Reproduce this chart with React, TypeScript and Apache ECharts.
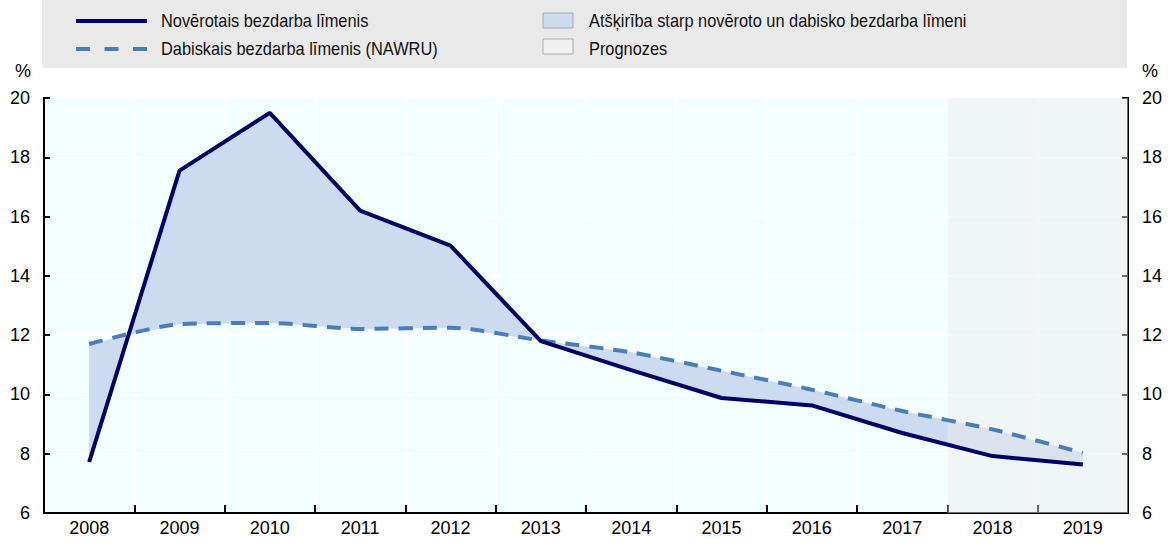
import React, { useEffect, useRef } from 'react';
import * as echarts from 'echarts';

const years = ['2008', '2009', '2010', '2011', '2012', '2013', '2014', '2015', '2016', '2017', '2018', '2019'];
const observed = [7.72, 17.55, 19.5, 16.2, 15.02, 11.8, 10.82, 9.88, 9.63, 8.7, 7.92, 7.64];
const nawru = [11.7, 12.37, 12.41, 12.21, 12.25, 11.82, 11.42, 10.8, 10.16, 9.44, 8.82, 8.03];
const forecastFrom = '2018';
const yMin = 6;
const yMax = 20;
const yStep = 2;

const legendObserved = 'Novērotais bezdarba līmenis';
const legendNawru = 'Dabiskais bezdarba līmenis (NAWRU)';
const legendGap = 'Atšķirība starp novēroto un dabisko bezdarba līmeni';
const legendForecast = 'Prognozes';

const FONT = "'Liberation Sans Narrow', 'Arial Narrow', 'Liberation Sans', Arial, sans-serif";
const NAVY = '#000066';
const BLUE = '#4a7ebb';
const GAP_FILL = '#cddbf0';

export default function App() {
  const ref = useRef<HTMLDivElement>(null);
  useEffect(() => {
    document.body.style.margin = '0';
    if (!ref.current) return;
    const chart = echarts.init(ref.current, null, { renderer: 'svg' });
    const axisLabelStyle = { color: '#000', fontSize: 18, fontFamily: FONT };
    const legendText = (text: string, x: number, y: number) => ({
      type: 'text',
      x,
      y,
      scaleX: 0.91,
      style: { text, fontSize: 18, fontFamily: FONT, fill: '#111', verticalAlign: 'middle' },
    });
    const option: any = {
      animation: false,
      textStyle: { fontFamily: FONT },
      grid: {
        left: 44,
        right: 44,
        top: 98,
        bottom: 31,
        show: true,
        backgroundColor: '#f3ffff',
        borderColor: '#000',
        borderWidth: 2,
      },
      xAxis: {
        type: 'category',
        data: years,
        boundaryGap: true,
        axisLine: { show: true, lineStyle: { color: '#000', width: 2 } },
        axisTick: { show: true, inside: true, length: 8, lineStyle: { color: '#000', width: 2 } },
        axisLabel: { ...axisLabelStyle, margin: 6 },
        splitLine: { show: true, lineStyle: { color: '#ffffff', width: 2 } },
      },
      yAxis: [
        {
          type: 'value',
          min: yMin,
          max: yMax,
          interval: yStep,
          position: 'left',
          name: '%',
          nameLocation: 'end',
          nameGap: 18,
          nameTextStyle: { ...axisLabelStyle, align: 'right', padding: [0, 13, 0, 0] },
          axisLine: { show: true, lineStyle: { color: '#000', width: 2 } },
          axisTick: { show: true, inside: true, length: 6, lineStyle: { color: '#000', width: 2 } },
          axisLabel: { ...axisLabelStyle, margin: 14 },
          splitLine: { show: true, lineStyle: { color: '#ffffff', width: 2 } },
        },
        {
          type: 'value',
          min: yMin,
          max: yMax,
          interval: yStep,
          position: 'right',
          name: '%',
          nameLocation: 'end',
          nameGap: 18,
          nameTextStyle: { ...axisLabelStyle, align: 'left', padding: [0, 0, 0, 14] },
          axisLine: { show: true, lineStyle: { color: '#000', width: 2 } },
          axisTick: { show: true, inside: true, length: 6, lineStyle: { color: '#000', width: 2 } },
          axisLabel: { ...axisLabelStyle, margin: 14 },
          splitLine: { show: false },
        },
      ],
      series: [
        {
          type: 'custom',
          name: legendGap,
          z: 2,
          silent: true,
          data: [[0]],
          renderItem: (params: any, api: any) => {
            const pts: number[][] = [];
            observed.forEach((v, i) => pts.push(api.coord([i, v])));
            for (let i = nawru.length - 1; i >= 0; i--) pts.push(api.coord([i, nawru[i]]));
            return { type: 'polygon', shape: { points: pts }, style: { fill: GAP_FILL } };
          },
        },
        {
          type: 'custom',
          name: legendForecast,
          z: 3,
          silent: true,
          data: [[years.indexOf(forecastFrom)]],
          renderItem: (params: any, api: any) => {
            const cs = params.coordSys;
            const band = api.size([1, 0])[0];
            const x0 = api.coord([api.value(0), yMin])[0] - band / 2;
            return {
              type: 'rect',
              shape: { x: x0, y: cs.y, width: cs.x + cs.width - x0, height: cs.height },
              style: { fill: 'rgba(237,235,236,0.45)' },
            };
          },
        },
        {
          type: 'line',
          name: legendNawru,
          data: nawru,
          z: 4,
          symbol: 'none',
          smooth: 0.25,
          lineStyle: { color: BLUE, width: 4, type: [14, 10] },
        },
        {
          type: 'line',
          name: legendObserved,
          data: observed,
          z: 5,
          symbol: 'none',
          lineStyle: { color: NAVY, width: 4 },
        },
      ],
      graphic: [
        { type: 'rect', shape: { x: 42, y: 0, width: 1085, height: 68 }, style: { fill: '#e9e9e9' }, z: 0 },
        { type: 'line', shape: { x1: 76, y1: 21, x2: 147, y2: 21 }, style: { stroke: NAVY, lineWidth: 4 } },
        { type: 'line', shape: { x1: 76, y1: 49, x2: 147, y2: 49 }, style: { stroke: BLUE, lineWidth: 4, lineDash: [14, 14.5] } },
        legendText(legendObserved, 161, 21),
        legendText(legendNawru, 161, 49),
        { type: 'rect', shape: { x: 543, y: 13, width: 30, height: 15 }, style: { fill: GAP_FILL, stroke: '#aaaaaa', lineWidth: 1 } },
        { type: 'rect', shape: { x: 543, y: 39, width: 30, height: 15 }, style: { fill: '#f0f0f0', stroke: '#aaaaaa', lineWidth: 1 } },
        legendText(legendGap, 589, 21),
        legendText(legendForecast, 589, 49),
      ],
    };
    chart.setOption(option);
    return () => chart.dispose();
  }, []);
  return <div ref={ref} style={{ width: 1172, height: 544 }} />;
}
